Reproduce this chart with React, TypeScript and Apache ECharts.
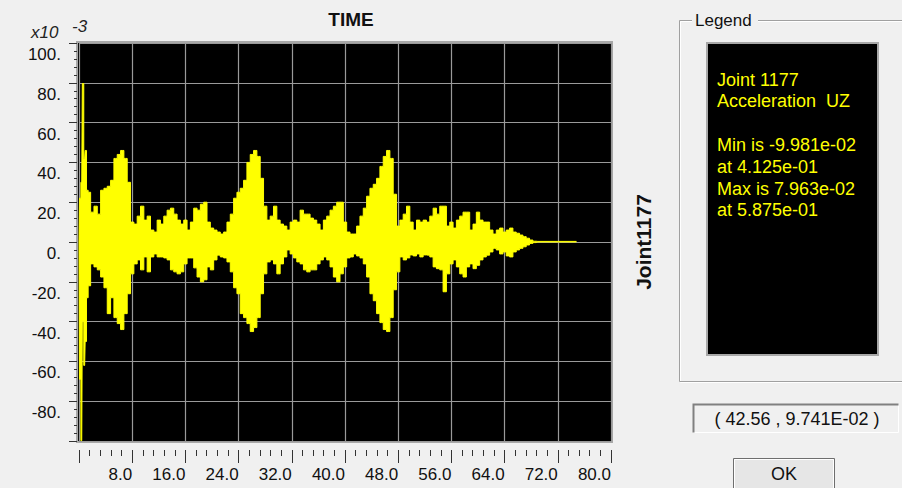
import React, { useEffect, useRef } from "react";
import * as echarts from "echarts";

// ---- data (values in units of 1e-3, time in seconds) ----
const onsetTimes = [0.0, 0.15, 0.4125, 0.5875, 0.85, 1.0, 1.25];
const onsetUpper = [0, 22, 30, 79.63, 42, 46, 26];
const onsetLower = [0, -69, -99.81, -40, -62, -50, -28];

const SAMPLE_START = 1.5;
const SAMPLE_STEP = 0.5;
const upperEnvelope = [
  25, 15, 18, 14, 26, 27, 28, 31, 42, 44,
  46, 42, 30, 10, 9, 13, 18, 11, 13, 6,
  5, 11, 9, 13, 16, 17, 14, 11, 9, 11,
  6, 10, 17, 16, 19, 20, 10, 7, 6, 5,
  4, 5, 10, 14, 22, 25, 27, 31, 40, 44,
  46, 43, 32, 18, 11, 13, 18, 11, 9, 8,
  6, 10, 11, 10, 16, 14, 14, 12, 11, 9,
  6, 11, 13, 16, 18, 20, 20, 10, 5, 4,
  4, 8, 13, 17, 23, 27, 29, 32, 38, 43,
  46, 42, 24, 8, 11, 14, 18, 10, 6, 11,
  10, 11, 10, 13, 17, 14, 18, 18, 8, 10,
  7, 11, 13, 15, 15, 6, 9, 15, 11, 10,
  10, 6, 4, 6, 7, 5, 6, 7, 5, 4.4,
  3.5, 2.7, 1.9, 1, 0.4,
];
const lowerEnvelope = [
  -22, -11, -12.5, -14, -17.6, -23, -36, -28, -38, -41,
  -44, -36, -26, -16, -11, -9, -14, -7.5, -15, -7.5,
  -6, -7.5, -7.5, -8, -9, -14, -15, -16, -15, -11,
  -8, -8, -13, -17.6, -20, -19, -12.5, -14, -9, -6.6,
  -7.5, -8, -10, -15, -23, -26, -36, -38, -41, -45,
  -43, -38, -26, -16, -10, -9, -11, -16, -11, -7.5,
  -4, -6, -8, -10, -11, -14, -15, -14, -14, -11,
  -9, -7.5, -9, -12.5, -17.6, -20, -16, -12.5, -8, -7.5,
  -6, -7, -8, -11, -17.6, -26, -29.5, -36, -40.5, -44,
  -45, -38, -24, -15, -7.5, -9, -8, -6.5, -7, -6,
  -7.5, -6.5, -6.6, -7.5, -12.5, -13.4, -14, -25, -16, -11,
  -9, -12.5, -16, -17.6, -12.5, -11, -13.4, -11.7, -9, -7.5,
  -6.6, -5, -3.2, -4, -6, -5, -7, -7.5, -5, -4,
  -3.2, -2.4, -1.5, -0.7, -0.3,
];
const tailTimes = [69.0, 74.8];
const tailUpper = [0.3, 0.3];
const tailLower = [0, 0];

const X_MIN = 0;
const X_MAX = 80;
const X_STEP = 8;
const Y_MIN = -100;
const Y_MAX = 100;
const Y_STEP = 20;

const chartTitle = "TIME";
const sideTitle = "Joint1177";
const scaleBase = "x10";
const scaleExp = "-3";
const legendHeader = "Legend";
const legendLines = [
  "Joint 1177",
  "Acceleration  UZ",
  "",
  "Min is -9.981e-02",
  "at 4.125e-01",
  "Max is 7.963e-02",
  "at 5.875e-01",
];
const cursorReadout = "( 42.56 , 9.741E-02 )";
const okLabel = "OK";

function buildSeries(env: number[], onset: number[], tail: number[]): number[][] {
  const pts: number[][] = [];
  onsetTimes.forEach((t, i) => pts.push([t, onset[i]]));
  env.forEach((v, i) => pts.push([SAMPLE_START + i * SAMPLE_STEP, v]));
  tailTimes.forEach((t, i) => pts.push([t, tail[i]]));
  return pts;
}

const FONT = "'Liberation Sans', Arial, sans-serif";

export default function App() {
  const ref = useRef<HTMLDivElement>(null);

  useEffect(() => {
    if (!ref.current) return;
    const chart = echarts.init(ref.current, undefined, { renderer: "svg" });

    const yellow = "#ffff00";
    const gridColor = "#9a9a9a";
    const tickColor = "#333333";

    const legendGraphics: any[] = legendLines.map((line, i) => ({
      type: "text",
      x: 717,
      y: 79.5 + i * 21.8,
      style: {
        text: line,
        fill: yellow,
        font: `18px ${FONT}`,
        verticalAlign: "middle",
      },
      z: 10,
    }));

    const envelopeSeries = (data: number[][]) => ({
      type: "line",
      data,
      step: "middle",
      symbol: "none",
      showSymbol: false,
      lineStyle: { color: yellow, width: 1 },
      areaStyle: { color: yellow, opacity: 1, origin: "auto" },
      z: 5,
    });

    const option: any = {
      animation: false,
      backgroundColor: "#f0f0f0",
      grid: {
        left: 79,
        top: 43,
        width: 532,
        height: 398,
        show: false,
      },
      xAxis: {
        type: "value",
        min: X_MIN,
        max: X_MAX,
        interval: X_STEP,
        position: "bottom",
        offset: 9,
        axisLine: { show: false, onZero: false },
        axisTick: { show: true, length: 13, lineStyle: { color: tickColor, width: 1 } },
        minorTick: { show: true, splitNumber: 5, length: 6, lineStyle: { color: tickColor, width: 1 } },
        splitLine: { show: true, lineStyle: { color: gridColor, width: 1.2 } },
        minorSplitLine: { show: false },
        axisLabel: {
          formatter: (v: number) => v.toFixed(1),
          showMinLabel: false,
          align: "right",
          margin: 16,
          fontSize: 17,
          fontFamily: FONT,
          color: "#111",
        },
      },
      yAxis: {
        type: "value",
        min: Y_MIN,
        max: Y_MAX,
        interval: Y_STEP,
        offset: 2,
        axisLine: { show: false, onZero: false },
        axisTick: { show: true, length: 8, lineStyle: { color: tickColor, width: 1 } },
        minorTick: { show: true, splitNumber: 5, length: 3, lineStyle: { color: tickColor, width: 1 } },
        splitLine: { show: true, lineStyle: { color: gridColor, width: 1.2 } },
        axisLabel: {
          formatter: (v: number) => `${v}.`,
          showMinLabel: false,
          verticalAlign: "top",
          padding: [3, 0, 0, 0],
          margin: 16,
          fontSize: 17,
          fontFamily: FONT,
          color: "#111",
        },
      },
      series: [
        envelopeSeries(buildSeries(upperEnvelope, onsetUpper, tailUpper)),
        envelopeSeries(buildSeries(lowerEnvelope, onsetLower, tailLower)),
      ],
      graphic: [
        // plot background
        {
          type: "rect",
          z: -10,
          shape: { x: 77, y: 42, width: 535, height: 400 },
          style: { fill: "#000", stroke: "#a8a8a8", lineWidth: 2 },
        },
        // title
        {
          type: "text",
          x: 351,
          y: 19,
          style: {
            text: chartTitle,
            font: `bold 19px ${FONT}`,
            fill: "#111",
            align: "center",
            verticalAlign: "middle",
          },
        },
        // scale note
        {
          type: "text",
          x: 31,
          y: 32,
          style: { text: scaleBase, font: `italic 17px ${FONT}`, fill: "#222", verticalAlign: "middle" },
        },
        {
          type: "text",
          x: 72,
          y: 26,
          style: { text: scaleExp, font: `italic 17px ${FONT}`, fill: "#222", verticalAlign: "middle" },
        },
        // side title
        {
          type: "text",
          x: 643,
          y: 242,
          rotation: Math.PI / 2,
          style: {
            text: sideTitle,
            font: `bold 21px ${FONT}`,
            fill: "#111",
            align: "center",
            verticalAlign: "middle",
          },
        },
        // legend group box (etched)
        {
          type: "rect",
          shape: { x: 680.5, y: 21.5, width: 240, height: 361 },
          style: { fill: "none", stroke: "#ffffff", lineWidth: 1 },
        },
        {
          type: "rect",
          shape: { x: 679.5, y: 20.5, width: 240, height: 361 },
          style: { fill: "none", stroke: "#a0a0a0", lineWidth: 1 },
        },
        {
          type: "rect",
          shape: { x: 692, y: 12, width: 66, height: 16 },
          style: { fill: "#f0f0f0", stroke: "none" },
        },
        {
          type: "text",
          x: 695,
          y: 20,
          style: {
            text: legendHeader,
            font: `17px ${FONT}`,
            fill: "#111",
            verticalAlign: "middle",
          },
        },
        // legend black panel
        {
          type: "rect",
          shape: { x: 707, y: 43, width: 171, height: 312 },
          style: { fill: "#000", stroke: "#a8a8a8", lineWidth: 2 },
        },
        ...legendGraphics,
        // cursor readout box
        {
          type: "rect",
          shape: { x: 693.5, y: 404.5, width: 205, height: 28 },
          style: { fill: "#f0f0f0", stroke: "#ffffff", lineWidth: 1 },
        },
        {
          type: "polyline",
          shape: { points: [[693.5, 432.5], [693.5, 404.5], [898.5, 404.5]] },
          style: { stroke: "#808080", lineWidth: 2, fill: "none" },
        },
        {
          type: "text",
          x: 797,
          y: 418.5,
          style: {
            text: cursorReadout,
            font: `18px ${FONT}`,
            fill: "#111",
            align: "center",
            verticalAlign: "middle",
          },
        },
        // OK button
        {
          type: "rect",
          shape: { x: 733.5, y: 458.5, width: 101, height: 40 },
          style: { fill: "#e6e6e6", stroke: "#6e6e6e", lineWidth: 1 },
        },
        {
          type: "rect",
          shape: { x: 734.5, y: 459.5, width: 99, height: 38 },
          style: { fill: "none", stroke: "#ffffff", lineWidth: 1 },
        },
        {
          type: "text",
          x: 784,
          y: 474,
          style: {
            text: okLabel,
            font: `18px ${FONT}`,
            fill: "#111",
            align: "center",
            verticalAlign: "middle",
          },
        },
      ],
    };

    chart.setOption(option);
    return () => {
      chart.dispose();
    };
  }, []);

  return (
    <div
      ref={ref}
      style={{ position: "fixed", left: 0, top: 0, width: 902, height: 488 }}
    />
  );
}
